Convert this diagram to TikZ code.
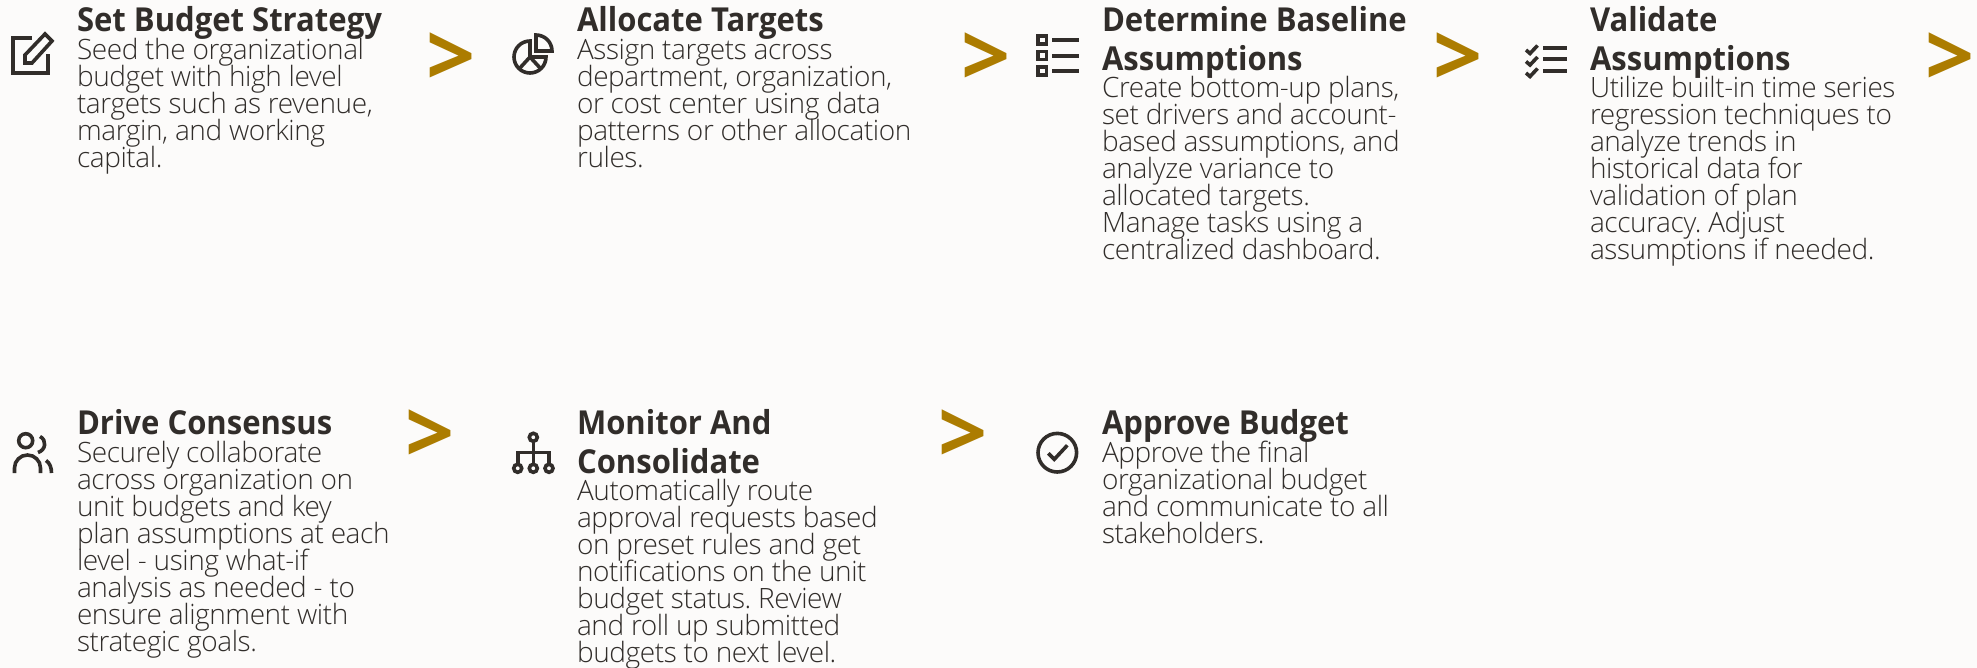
\documentclass[tikz,border=0pt]{standalone}
\usepackage{fontspec}
\newfontfamily\bodyf{Open Sans Light}[LetterSpace=-1.5]
\newfontfamily\titlef{Open Sans}[UprightFont=* Bold,FakeStretch=0.94]
\newfontfamily\chevf{Open Sans}[UprightFont=* Bold]
\definecolor{ink}{HTML}{312D2A}
\definecolor{paper}{HTML}{FCFBFA}
\definecolor{gold}{HTML}{AC7C00}
\newcommand{\bstrut}{\rule{0pt}{30pt}}
\newcommand{\tstrut}{\rule{0pt}{40pt}}
\tikzset{
  x=1pt,y=-1pt,
  bodytext/.style={anchor=north west,inner sep=0pt,outer sep=0pt,align=left,yshift=30pt,text=ink,font=\bodyf\fontsize{28}{27}\selectfont},
  titletext/.style={anchor=north west,inner sep=0pt,outer sep=0pt,align=left,yshift=40pt,text=ink,font=\titlef\fontsize{33}{39}\selectfont},
  chev/.style={anchor=center,inner sep=0pt,outer sep=0pt,text=gold,font=\chevf\fontsize{86}{86}\selectfont},
  icon/.style={draw=ink,line width=3.6pt,fill=none,line join=miter},
  bar/.style={draw=ink,line width=4pt},
}
\begin{document}
\begin{tikzpicture}
\lineskiplimit=-40pt\relax
\frenchspacing\relax
\useasboundingbox[fill=paper] (0,0) rectangle (1977,668);
% texts
\node[titletext] (t1) at (77,32) {\tstrut Set Budget Strategy};
\node[bodytext] (b1) at (77,59.5) {\bstrut Seed the organizational\\budget with high level\\targets such as revenue,\\margin, and working\\capital.};
\node[titletext] (t2) at (577,32) {\tstrut Allocate Targets};
\node[bodytext] (b2) at (577,59.5) {\bstrut Assign targets across\\department, organization,\\or cost center using data\\patterns or other allocation\\rules.};
\node[titletext] (t3) at (1102,32) {\tstrut Determine Baseline\\Assumptions};
\node[bodytext] (b3) at (1102,97.5) {\bstrut Create bottom-up plans,\\set drivers and account-\\based assumptions, and\\analyze variance to\\allocated targets.\\Manage tasks using a\\centralized dashboard.};
\node[titletext] (t4) at (1590,32) {\tstrut Validate\\Assumptions};
\node[bodytext] (b4) at (1590,97.5) {\bstrut Utilize built-in time series\\regression techniques to\\analyze trends in\\historical data for\\validation of plan\\accuracy. Adjust\\assumptions if needed.};
\node[titletext] (t5) at (77,434.5) {\tstrut Drive Consensus};
\node[bodytext] (b5) at (77,462.5) {\bstrut Securely collaborate\\across organization on\\unit budgets and key\\plan assumptions at each\\level - using what-if\\analysis as needed - to\\ensure alignment with\\strategic goals.};
\node[titletext] (t6) at (577,434.5) {\tstrut Monitor And\\Consolidate};
\node[bodytext] (b6) at (577,500.5) {\bstrut Automatically route\\approval requests based\\on preset rules and get\\notifications on the unit\\budget status. Review\\and roll up submitted\\budgets to next level.};
\node[titletext] (t7) at (1102,434.5) {\tstrut Approve Budget};
\node[bodytext] (b7) at (1102,462.5) {\bstrut Approve the final\\organizational budget\\and communicate to all\\stakeholders.};
% chevrons
\node[chev] (c1) at (451,59.5) {>};
\node[chev] (c2) at (986,59.5) {>};
\node[chev] (c3) at (1458,59.5) {>};
\node[chev] (c4) at (1950,59.5) {>};
\node[chev] (c5) at (430,437) {>};
\node[chev] (c6) at (963,437) {>};
% pencil icon
\draw[icon] (32,38) -- (13,38) -- (13,73) -- (48,73) -- (48,54);
\draw[icon] (25,55) -- (45,34) -- (52,41) -- (32,63) -- (25,63) -- cycle;
% pie icon
\draw[icon] (530,41) arc[start angle=270,end angle=0,radius=16] -- (530,57) -- cycle;
\draw[icon] (530,57) -- (519,69) (530,57) -- (541,69);
\draw[icon] (536,51) -- (536,35) arc[start angle=270,end angle=360,radius=16] -- cycle;
% list icon
\foreach \yy in {40.3,55.7,71}{
  \draw[icon] (1038,\yy-4) rectangle (1046.5,\yy+4);
  \draw[bar] (1052,\yy) -- (1079,\yy);
}
% checklist icon
\foreach \yy in {48,59.3,71}{
  \draw[bar] (1543,\yy) -- (1566.5,\yy);
}
\foreach \yy in {50,61.5,73}{
  \draw[bar,line width=3.6pt] (1526,\yy) -- (1530,\yy+3.5) -- (1537.5,\yy-4.5);
}
% people icon
\draw[icon] (25.7,440.7) circle[radius=7];
\draw[icon] (14.5,473) -- (14.5,468) arc[start angle=180,end angle=360,radius=13] -- (40.5,473);
\draw[icon] (40,436.5) .. controls (47,440) and (46,450) .. (38,452.5);
\draw[icon] (46,460.5) .. controls (50,463) and (51.5,468) .. (51.5,473);
% hierarchy icon
\draw[icon] (533.3,437.3) circle[radius=4];
\draw[icon] (533.3,441.3) -- (533.3,464.3);
\draw[icon] (517.7,464.3) -- (517.7,452.3) -- (549,452.3) -- (549,464.3);
\foreach \xx in {517.7,533.3,549}{ \draw[icon] (\xx,468.3) circle[radius=4]; }
% check circle icon
\draw[icon] (1057.3,452.7) circle[radius=19.3];
\draw[icon] (1048.3,453.3) -- (1054.3,459.3) -- (1067.3,445.3);
\end{tikzpicture}
\end{document}
